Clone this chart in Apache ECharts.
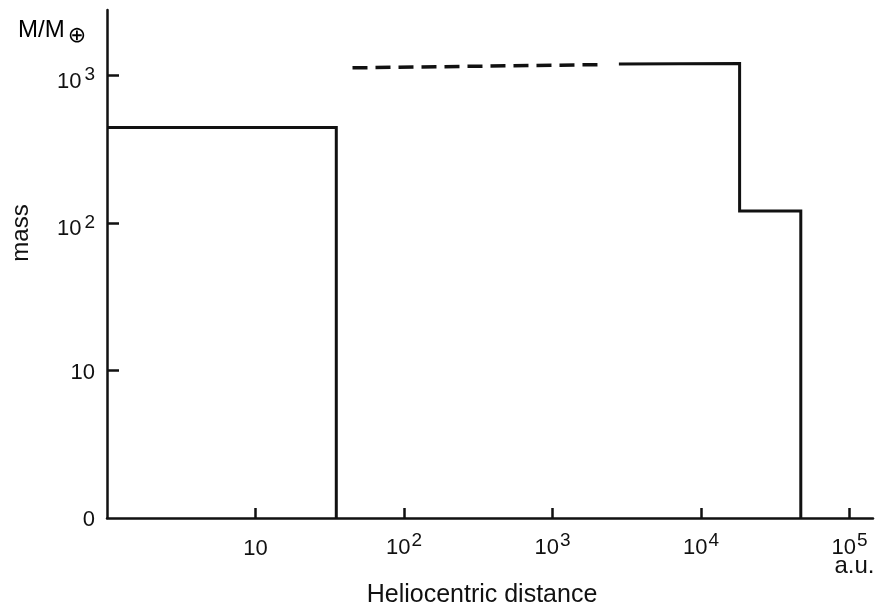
<!DOCTYPE html>
<html><head><meta charset="utf-8">
<script src="https://cdn.jsdelivr.net/npm/echarts@6/dist/echarts.min.js"></script>
<style>html,body{margin:0;padding:0;background:#fff}#c{width:878px;height:606px}</style>
</head><body><div id="c"></div>
<script>
// Tick values (log axes)
const xTicks = [10, 100, 1000, 10000, 100000];
const yTicks = [1, 10, 100, 1000];
// Step profile of mass vs heliocentric distance [AU, M/M_earth]
const innerSolid = [[1, 445], [35, 445], [35, 1]];
const dashedPart = [[45, 1130], [2200, 1190]];
const outerSolid = [[2800, 1200], [18200, 1210], [18200, 121], [47000, 121], [47000, 1]];

const FONT = 'Liberation Sans, Arial, Helvetica, sans-serif';
const INK = '#111';

function expOf(v) { return Math.round(Math.log10(v)); }

const chart = echarts.init(document.getElementById('c'), null, {renderer: 'canvas'});
chart.setOption({
  animation: false,
  backgroundColor: '#fff',
  grid: {left: 107, right: 5, top: 10, bottom: 88, containLabel: false, outerBoundsMode: 'none'},
  xAxis: {
    type: 'log', logBase: 10, min: 1, max: 144000,
    name: 'Heliocentric distance', nameLocation: 'middle', nameGap: 60,
    nameTextStyle: {fontFamily: FONT, fontSize: 25, color: INK, padding: [0, 16, 0, 0]},
    axisLine: {show: true, lineStyle: {color: INK, width: 2.5}},
    axisTick: {show: true, inside: true, length: 10, lineStyle: {color: INK, width: 2.5}, customValues: xTicks},
    splitLine: {show: false}, minorTick: {show: false},
    axisLabel: {
      show: true, margin: 10, color: INK, fontFamily: FONT, customValues: xTicks,
      formatter: function (v) {
        const e = expOf(v);
        if (e === 1) return '{p|10}';
        if (e === 5) return '{m|10}{s|5}\n{u|a.u.}';
        return '{m|10}{s|' + e + '}';
      },
      rich: {
        p: {fontFamily: FONT, fontSize: 22, lineHeight: 22, color: INK, verticalAlign: 'top', padding: [10, 0, 0, 0]},
        m: {fontFamily: FONT, fontSize: 22, lineHeight: 22, color: INK, verticalAlign: 'top', padding: [9, 0, 0, 0]},
        s: {fontFamily: FONT, fontSize: 19, lineHeight: 22, color: INK, verticalAlign: 'top', padding: [3, 0, 0, 1]},
        u: {fontFamily: FONT, fontSize: 24, lineHeight: 24, color: INK, verticalAlign: 'top', padding: [4, 0, 0, 10]}
      }
    }
  },
  yAxis: {
    type: 'log', logBase: 10, min: 1, max: 2790,
    name: 'mass', nameLocation: 'middle', nameGap: 74, nameRotate: 90,
    nameTextStyle: {fontFamily: FONT, fontSize: 24, color: INK, padding: [0, 0, 0, 62]},
    axisLine: {show: true, lineStyle: {color: INK, width: 2.5}},
    axisTick: {show: true, inside: true, length: 12, lineStyle: {color: INK, width: 2.5}, customValues: [10, 100, 1000]},
    splitLine: {show: false}, minorTick: {show: false},
    axisLabel: {
      show: true, margin: 12, color: INK, fontFamily: FONT, customValues: yTicks,
      formatter: function (v) {
        const e = expOf(v);
        if (e === 0) return '{p|0}';
        if (e === 1) return '{p|10}';
        return '{m|10}{s|' + e + '}';
      },
      rich: {
        p: {fontFamily: FONT, fontSize: 22, lineHeight: 22, color: INK, verticalAlign: 'top', padding: [2, 0, 0, 0]},
        m: {fontFamily: FONT, fontSize: 22, lineHeight: 22, color: INK, verticalAlign: 'top', padding: [6, 0, 0, 0]},
        s: {fontFamily: FONT, fontSize: 19, lineHeight: 22, color: INK, verticalAlign: 'top', padding: [1, 0, 0, 3]}
      }
    }
  },
  graphic: [{
    type: 'text', left: 18, top: 18, silent: true,
    style: {
      text: '{a|M/M}{b|⊕}',
      rich: {
        a: {fontFamily: FONT, fontSize: 24, lineHeight: 24, color: INK, verticalAlign: 'top'},
        b: {fontFamily: 'DejaVu Sans, sans-serif', fontSize: 22, lineHeight: 24, color: INK, verticalAlign: 'top', padding: [7, 0, 0, 3]}
      }
    }
  }],
  series: [
    {type: 'line', data: innerSolid, symbol: 'none', clip: false,
     lineStyle: {color: INK, width: 3, type: 'solid', join: 'miter'}},
    {type: 'line', data: dashedPart, symbol: 'none', clip: false,
     lineStyle: {color: INK, width: 3.5, type: [15, 8]}},
    {type: 'line', data: outerSolid, symbol: 'none', clip: false,
     lineStyle: {color: INK, width: 3, type: 'solid', join: 'miter'}}
  ]
});
</script>
</body></html>
